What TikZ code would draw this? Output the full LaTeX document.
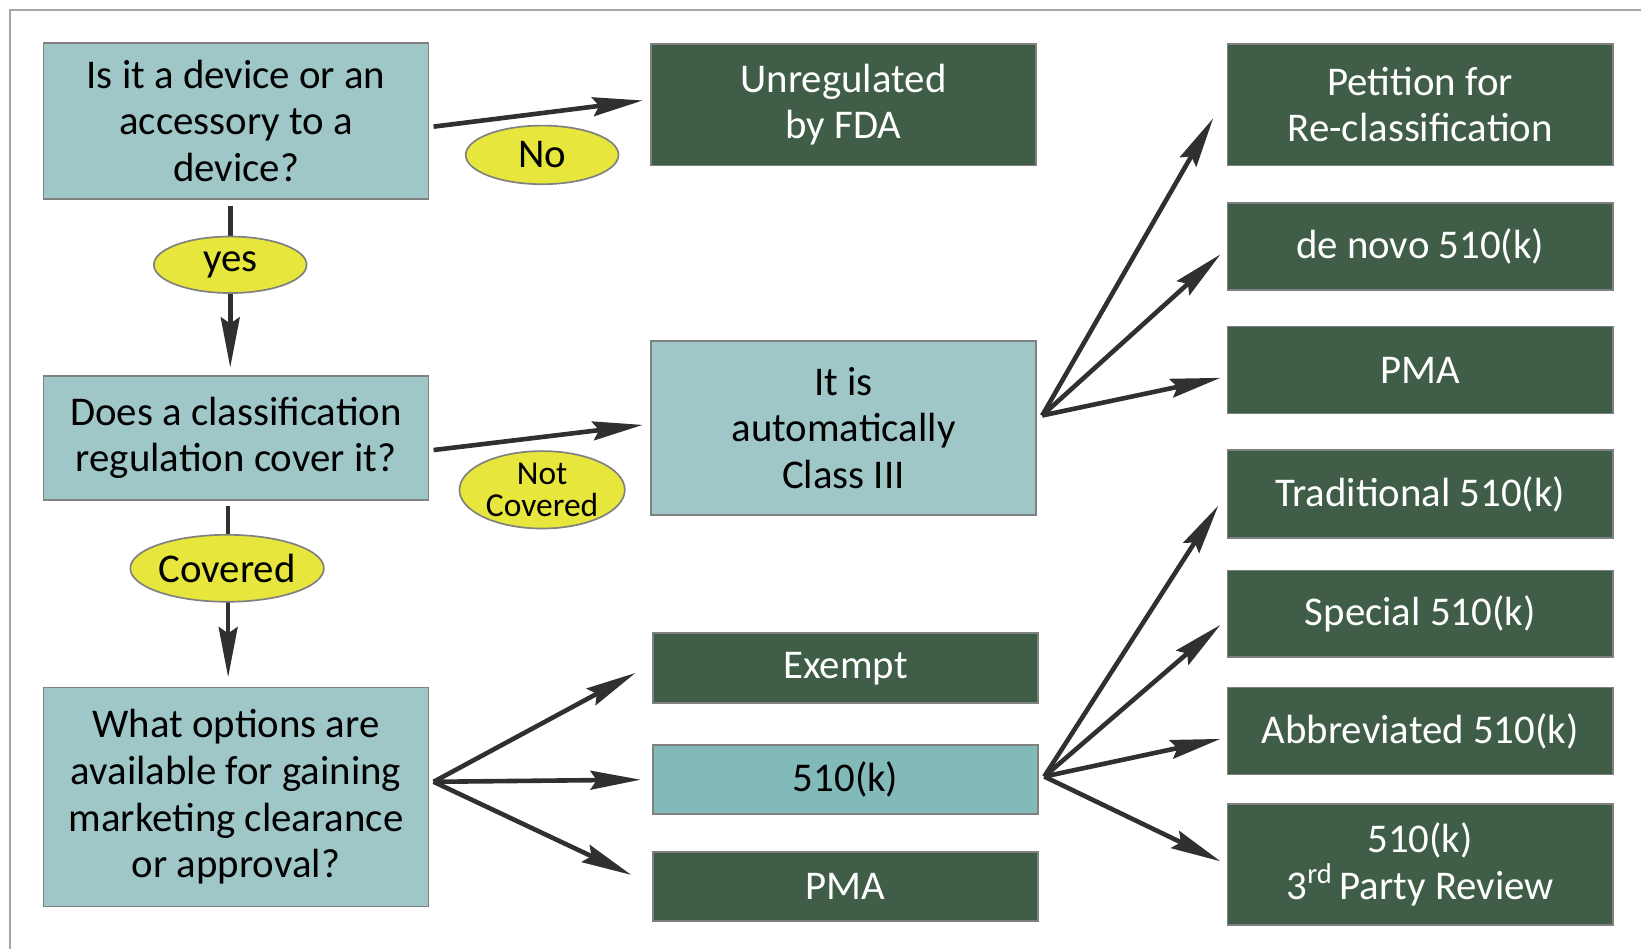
\documentclass[tikz,border=0pt]{standalone}
\usepackage{fontspec}
\setmainfont{Carlito}
\usetikzlibrary{shapes.geometric,arrows.meta}
\definecolor{lteal}{HTML}{9FC7C7}
\definecolor{mteal}{HTML}{82B9B9}
\definecolor{dgreen}{HTML}{3F5D47}
\definecolor{lyellow}{HTML}{E6E63C}
\definecolor{edge}{HTML}{808080}
\definecolor{arrow}{HTML}{303030}
\tikzset{
  box/.style = {draw=edge, line width=0.8pt, minimum width=184pt, inner sep=0pt,
    align=center, font=\fontsize{19.5pt}{22.3pt}\selectfont},
  ask/.style = {box, fill=lteal, text=black},
  answer/.style = {box, fill=dgreen, text=white},
  tag/.style = {ellipse, draw=edge, line width=0.8pt, fill=lyellow, inner sep=0pt,
    align=center, font=\fontsize{19.5pt}{22.3pt}\selectfont},
  arr/.style = {arrow, line width=2.2pt, -{Stealth[length=24pt,width=9pt,inset=3pt]}}
}
\begin{document}
\begin{tikzpicture}[x=0.5pt,y=-0.5pt]
  \useasboundingbox (0,0) rectangle (1568,907);
  \draw[edge!70, line width=1pt] (9.5,907) -- (9.5,9.5) -- (1568,9.5);

  \node[ask, minimum height=74.5pt] (q1) at (225.5,115.5) {Is it a device or an\\accessory to a\\device?};
  \node[ask, minimum height=59.5pt] (q2) at (225.5,418.5) {Does a classification\\regulation cover it?};
  \node[ask, minimum height=104.5pt] (q3) at (225.5,761.5) {What options are\\available for gaining\\marketing clearance\\or approval?};

  \node[answer, minimum height=58pt] (unreg) at (806,100) {Unregulated\\by FDA};
  \node[ask, minimum height=83pt] (cls) at (806,409) {It is\\automatically\\Class III};
  \node[answer, minimum height=33.5pt] (exempt) at (808,638.5) {Exempt};
  \node[box, fill=mteal, minimum height=33pt] (k510) at (808,745) {510(k)};
  \node[answer, minimum height=33pt] (pmaA) at (808,847) {PMA};

  \node[answer, minimum height=58pt] (petit) at (1357,100) {Petition for\\Re-classification};
  \node[answer, minimum height=41.5pt] (denovo) at (1357,235.5) {de novo 510(k)};
  \node[answer, minimum height=41.5pt] (pmaB) at (1357,353.5) {PMA};
  \node[answer, minimum height=42pt] (trad) at (1357,472) {Traditional 510(k)};
  \node[answer, minimum height=41.5pt] (spec) at (1357,586.5) {Special 510(k)};
  \node[answer, minimum height=41.5pt] (abbr) at (1357,698.5) {Abbreviated 510(k)};
  \node[answer, minimum height=58pt] (third) at (1357,826) {510(k)\\3\textsuperscript{rd}\,Party Review};

  \coordinate (clsout) at ([shift={(5,-12)}]cls.east);
  \coordinate (kout) at ([shift={(5,-3)}]k510.east);
  \coordinate (qout) at ([shift={(4,-14.5)}]q3.east);

  \draw[arr] ([shift={(4,5.5)}]q1.east) -- ([shift={(-7,-4)}]unreg.west);
  \draw[arr] ([shift={(-5.5,6)}]q1.south) -- ([shift={(-5.5,-7)}]q2.north);
  \draw[arr] ([shift={(4,11.5)}]q2.east) -- ([shift={(-7,-3)}]cls.west);
  \draw[arr] ([shift={(-7.5,5)}]q2.south) -- ([shift={(-7.5,-9)}]q3.north);

  \draw[arr] (qout) -- ([shift={(-16,4.5)}]exempt.west);
  \draw[arr] (qout) -- ([shift={(-11,0)}]k510.west);
  \draw[arr] (qout) -- ([shift={(-20,-11)}]pmaA.west);

  \draw[arr] (clsout) -- ([shift={(-13,13)}]petit.west);
  \draw[arr] (clsout) -- ([shift={(-6,7.5)}]denovo.west);
  \draw[arr] (clsout) -- ([shift={(-6,7.5)}]pmaB.west);

  \draw[arr] (kout) -- ([shift={(-8,11)}]trad.west);
  \draw[arr] (kout) -- ([shift={(-6,10.5)}]spec.west);
  \draw[arr] (kout) -- ([shift={(-6,7.5)}]abbr.west);
  \draw[arr] (kout) -- ([shift={(-6,-3)}]third.west);

  \node[tag, minimum width=73pt, minimum height=28pt] (no) at (518,148) {No};
  \node[tag, minimum width=73pt, minimum height=27pt] (yes) at (220,253) {yes};
  \node[tag, minimum width=79pt, minimum height=37pt,
        font=\fontsize{16pt}{15.5pt}\selectfont] (notcov) at (518,468) {Not\\Covered};
  \node[tag, minimum width=85pt, minimum height=32pt] (cov) at (217,543) {Covered};
\end{tikzpicture}
\end{document}
